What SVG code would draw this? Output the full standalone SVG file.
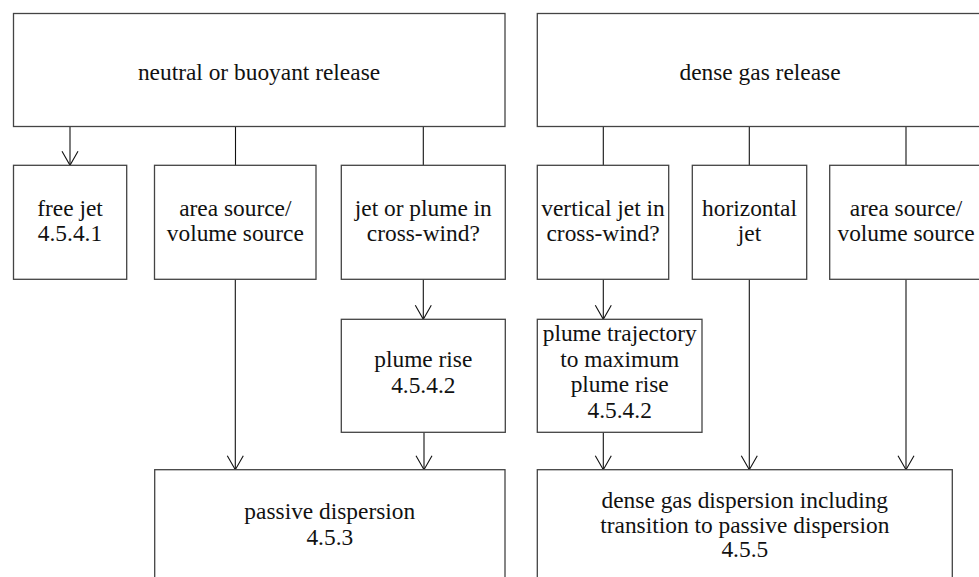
<svg xmlns="http://www.w3.org/2000/svg" width="979" height="577" viewBox="0 0 979 577">
<style>
.box{fill:#fff;stroke:#444;stroke-width:1.3}
.t{font-family:"Liberation Serif","Times New Roman",serif;font-size:23.4px;fill:#111;text-anchor:middle}
.c{stroke:#111;stroke-width:1.1;fill:none}
</style>
<defs>
<marker id="ah" markerUnits="userSpaceOnUse" viewBox="-15 -9 16 18" refX="0" refY="0" markerWidth="16" markerHeight="18" orient="auto">
<path d="M-14,-8 L0,0 L-14,8" fill="none" stroke="#111" stroke-width="1.1"/>
</marker>
</defs>
<rect width="979" height="577" fill="#fff"/>
<g id="connectors">
<line class="c" x1="70" y1="126.5" x2="70" y2="165.3" marker-end="url(#ah)"/>
<line class="c" x1="235.5" y1="126.5" x2="235.5" y2="165.3"/>
<line class="c" x1="423.3" y1="126.5" x2="423.3" y2="165.3"/>
<line class="c" x1="603.3" y1="126.5" x2="603.3" y2="165.3"/>
<line class="c" x1="749.3" y1="126.5" x2="749.3" y2="165.3"/>
<line class="c" x1="906" y1="126.5" x2="906" y2="165.3"/>
<line class="c" x1="423.3" y1="279.3" x2="423.3" y2="319.3" marker-end="url(#ah)"/>
<line class="c" x1="603.3" y1="279.3" x2="603.3" y2="319.3" marker-end="url(#ah)"/>
<line class="c" x1="235.3" y1="279.3" x2="235.3" y2="469.7" marker-end="url(#ah)"/>
<line class="c" x1="424" y1="432.3" x2="424" y2="469.7" marker-end="url(#ah)"/>
<line class="c" x1="603.3" y1="432.3" x2="603.3" y2="469.7" marker-end="url(#ah)"/>
<line class="c" x1="749.3" y1="279.3" x2="749.3" y2="469.7" marker-end="url(#ah)"/>
<line class="c" x1="906" y1="279.3" x2="906" y2="469.7" marker-end="url(#ah)"/>
</g>
<g id="neutral">
<rect class="box" x="13.5" y="13.5" width="491.5" height="113"/>
<text class="t" x="259" y="80">neutral or buoyant release</text>
</g>
<g id="dense">
<rect class="box" x="537.3" y="13.5" width="445" height="113"/>
<text class="t" x="760" y="80">dense gas release</text>
</g>
<g id="freejet">
<rect class="box" x="13.5" y="165.3" width="113.2" height="114"/>
<text class="t" x="70" y="215.5">free jet</text>
<text class="t" x="70" y="241">4.5.4.1</text>
</g>
<g id="area1">
<rect class="box" x="154.5" y="165.3" width="161.5" height="114"/>
<text class="t" x="235.3" y="215.5">area source/</text>
<text class="t" x="235.3" y="241">volume source</text>
</g>
<g id="jetplume">
<rect class="box" x="341.3" y="165.3" width="164" height="114"/>
<text class="t" x="423.3" y="215.5">jet or plume in</text>
<text class="t" x="423.3" y="241">cross-wind?</text>
</g>
<g id="vertjet">
<rect class="box" x="537.3" y="165.3" width="131.4" height="114"/>
<text class="t" x="603" y="215.5">vertical jet in</text>
<text class="t" x="603" y="241">cross-wind?</text>
</g>
<g id="horjet">
<rect class="box" x="692.3" y="165.3" width="114.4" height="114"/>
<text class="t" x="749.5" y="215.5">horizontal</text>
<text class="t" x="749.5" y="241">jet</text>
</g>
<g id="area2">
<rect class="box" x="829.7" y="165.3" width="152.6" height="114"/>
<text class="t" x="906" y="215.5">area source/</text>
<text class="t" x="906" y="241">volume source</text>
</g>
<g id="plumerise">
<rect class="box" x="341.3" y="319.3" width="164" height="113"/>
<text class="t" x="423.3" y="366.7">plume rise</text>
<text class="t" x="423.3" y="392.5">4.5.4.2</text>
</g>
<g id="trajectory">
<rect class="box" x="537.3" y="319.3" width="164.7" height="113"/>
<text class="t" x="619.7" y="341">plume trajectory</text>
<text class="t" x="619.7" y="366.5">to maximum</text>
<text class="t" x="619.7" y="392">plume rise</text>
<text class="t" x="619.7" y="417.5">4.5.4.2</text>
</g>
<g id="passive">
<rect class="box" x="154.7" y="469.7" width="350.3" height="120"/>
<text class="t" x="329.8" y="519">passive dispersion</text>
<text class="t" x="329.8" y="545">4.5.3</text>
</g>
<g id="densedisp">
<rect class="box" x="537.3" y="469.7" width="415" height="120"/>
<text class="t" x="744.8" y="507.7">dense gas dispersion including</text>
<text class="t" x="744.8" y="532.5">transition to passive dispersion</text>
<text class="t" x="744.8" y="557.3">4.5.5</text>
</g>
</svg>
